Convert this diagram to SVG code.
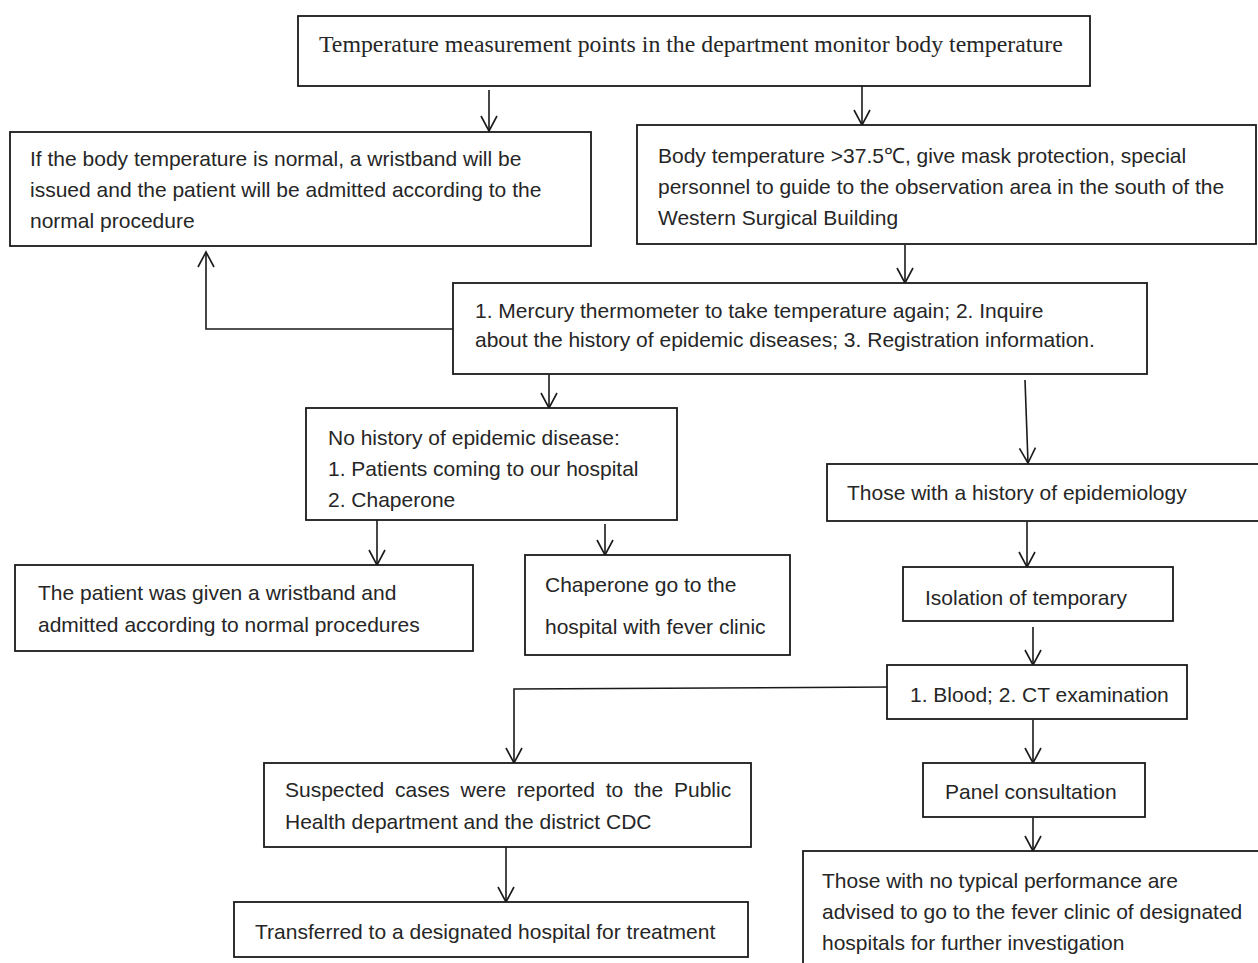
<svg xmlns="http://www.w3.org/2000/svg" width="1258" height="963" viewBox="0 0 1258 963">
<style>
.box{fill:#fff;stroke:#1a1a1a;stroke-width:1.8}
.t{font-family:"Liberation Sans",Arial,sans-serif;font-size:21px;fill:#262626}
.s{font-family:"Liberation Serif","Times New Roman",serif;font-size:23.8px;fill:#262626}
.c{fill:none;stroke:#1a1a1a;stroke-width:1.6}
</style>
<defs>
<marker id="arr" markerUnits="userSpaceOnUse" markerWidth="20" markerHeight="20" refX="16" refY="10" orient="auto" viewBox="0 0 20 20">
<path d="M1,2 L16,10 L1,18" fill="none" stroke="#1a1a1a" stroke-width="1.6"/>
</marker>
</defs>
<rect width="1258" height="963" fill="#fff"/>
<g id="connectors">
<path class="c" d="M489,90 V131" marker-end="url(#arr)"/>
<path class="c" d="M862,86 V125" marker-end="url(#arr)"/>
<path class="c" d="M905,245 V283" marker-end="url(#arr)"/>
<path class="c" d="M453,329 H206 V252" marker-end="url(#arr)"/>
<path class="c" d="M549,375 V408" marker-end="url(#arr)"/>
<path class="c" d="M1025,380 L1028,463" marker-end="url(#arr)"/>
<path class="c" d="M377,520 V565" marker-end="url(#arr)"/>
<path class="c" d="M605,524 V555" marker-end="url(#arr)"/>
<path class="c" d="M1027,522 V567" marker-end="url(#arr)"/>
<path class="c" d="M1033,627 V665" marker-end="url(#arr)"/>
<path class="c" d="M892,687 L514,689 V763" marker-end="url(#arr)"/>
<path class="c" d="M1033,720 V763" marker-end="url(#arr)"/>
<path class="c" d="M1033,818 V851" marker-end="url(#arr)"/>
<path class="c" d="M506,847 V902" marker-end="url(#arr)"/>
</g>
<g id="n-top">
<rect class="box" x="298" y="16" width="792" height="70"/>
<text class="s" x="319" y="52">Temperature measurement points in the department monitor body temperature</text>
</g>
<g id="n-normal">
<rect class="box" x="10" y="132" width="581" height="114"/>
<text class="t" x="30" y="166">If the body temperature is normal, a wristband will be</text>
<text class="t" x="30" y="197">issued and the patient will be admitted according to the</text>
<text class="t" x="30" y="228">normal procedure</text>
</g>
<g id="n-fever">
<rect class="box" x="637" y="125" width="619" height="119"/>
<text class="t" x="658" y="163">Body temperature &gt;37.5℃, give mask protection, special</text>
<text class="t" x="658" y="194">personnel to guide to the observation area in the south of the</text>
<text class="t" x="658" y="225">Western Surgical Building</text>
</g>
<g id="n-mercury">
<rect class="box" x="453" y="283" width="694" height="91"/>
<text class="t" x="475" y="318">1. Mercury thermometer to take temperature again; 2. Inquire</text>
<text class="t" x="475" y="347">about the history of epidemic diseases; 3. Registration information.</text>
</g>
<g id="n-nohistory">
<rect class="box" x="306" y="408" width="371" height="112"/>
<text class="t" x="328" y="445">No history of epidemic disease:</text>
<text class="t" x="328" y="476">1. Patients coming to our hospital</text>
<text class="t" x="328" y="507">2. Chaperone</text>
</g>
<g id="n-patient">
<rect class="box" x="15" y="565" width="458" height="86"/>
<text class="t" x="38" y="600">The patient was given a wristband and</text>
<text class="t" x="38" y="632">admitted according to normal procedures</text>
</g>
<g id="n-chaperone">
<rect class="box" x="525" y="555" width="265" height="100"/>
<text class="t" x="545" y="592">Chaperone go to the</text>
<text class="t" x="545" y="634">hospital with fever clinic</text>
</g>
<g id="n-history">
<rect class="box" x="827" y="464" width="440" height="57"/>
<text class="t" x="847" y="500">Those with a history of epidemiology</text>
</g>
<g id="n-isolation">
<rect class="box" x="903" y="567" width="270" height="54"/>
<text class="t" x="925" y="605">Isolation of temporary</text>
</g>
<g id="n-blood">
<rect class="box" x="887" y="665" width="300" height="54"/>
<text class="t" x="910" y="702">1. Blood; 2. CT examination</text>
</g>
<g id="n-panel">
<rect class="box" x="923" y="763" width="222" height="54"/>
<text class="t" x="945" y="799">Panel consultation</text>
</g>
<g id="n-notypical">
<rect class="box" x="803" y="851" width="470" height="130"/>
<text class="t" x="822" y="888">Those with no typical performance are</text>
<text class="t" x="822" y="919">advised to go to the fever clinic of designated</text>
<text class="t" x="822" y="950">hospitals for further investigation</text>
</g>
<g id="n-suspected">
<rect class="box" x="264" y="763" width="487" height="84"/>
<text class="t" x="285" y="797" word-spacing="4.9">Suspected cases were reported to the Public</text>
<text class="t" x="285" y="829">Health department and the district CDC</text>
</g>
<g id="n-transfer">
<rect class="box" x="234" y="902" width="514" height="55"/>
<text class="t" x="255" y="939">Transferred to a designated hospital for treatment</text>
</g>
</svg>
